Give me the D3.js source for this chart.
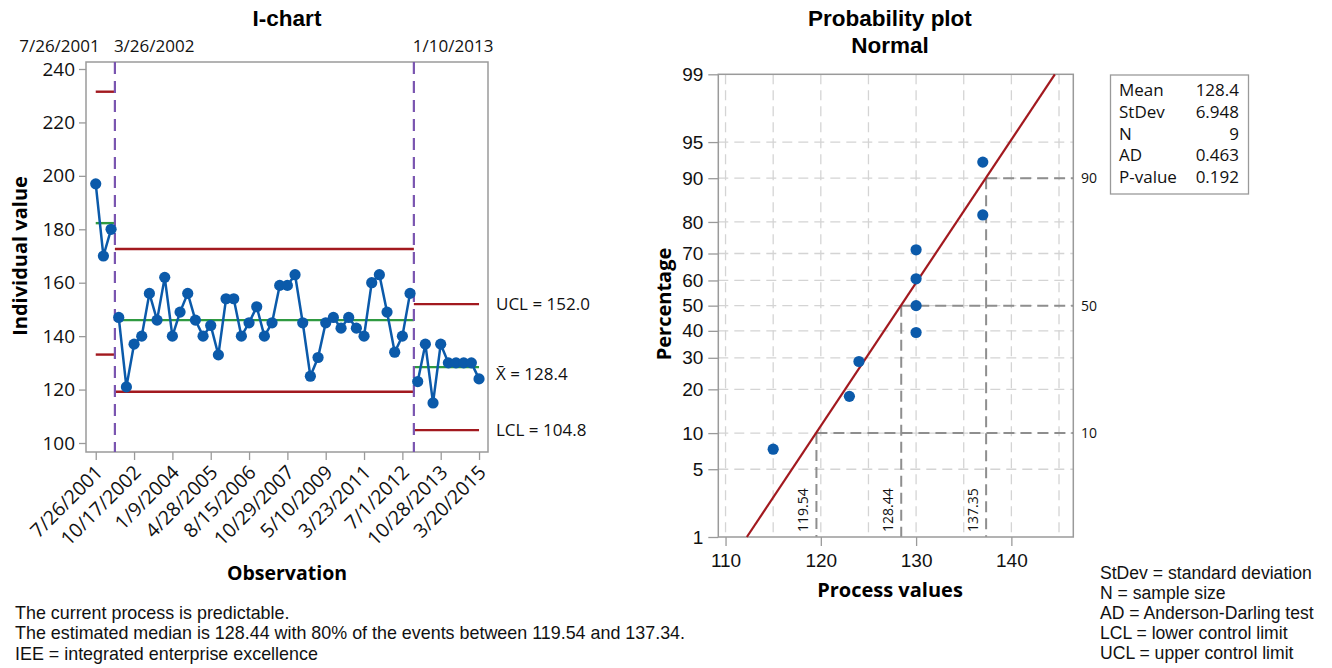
<!DOCTYPE html>
<html>
<head>
<meta charset="utf-8">
<script src="https://cdn.jsdelivr.net/npm/d3@7"></script>
<style>
  body { margin: 0; background: #fff; }
  svg { display: block; font-family: "Open Sans", "Noto Sans", sans-serif; }
  .note, .title { font-family: "Liberation Sans", Arial, sans-serif; }
</style>
</head>
<body>
<svg id="chart" width="1332" height="668"></svg>
<script>
// ---- I-chart data ----
const observations = [197, 170, 180, 147, 121, 137, 140, 156, 146, 162, 140, 149, 156, 146, 140, 144, 133,
  154, 154, 140, 145, 151, 140, 145, 159, 159, 163, 145, 125, 132, 145, 147, 143, 147, 143, 140, 160, 163,
  149, 134, 140, 156, 123, 137, 115, 137, 130, 130, 130, 130, 124];
const xTickIndex = [0, 5, 10, 15, 20, 25, 30, 35, 40, 45, 50];
const xTickLabels = ["7/26/2001", "10/17/2002", "1/9/2004", "4/28/2005", "8/15/2006", "10/29/2007",
  "5/10/2009", "3/23/2011", "7/1/2012", "10/28/2013", "3/20/2015"];
const yTicks = [100, 120, 140, 160, 180, 200, 220, 240];

// stages: first / last observation index, start date, centre line and limits
const stageFirst = [0, 3, 42];
const stageLast = [2, 41, 50];
const stageDates = ["7/26/2001", "3/26/2002", "1/10/2013"];
const stageMean = [182.3, 146.0, 128.4];
const stageUCL = [231.5, 172.6, 152.0];
const stageLCL = [133.1, 119.2, 104.8];

// ---- probability plot data ----
const processValues = [115, 123, 124, 130, 130, 130, 130, 137, 137];
const fitMean = 128.4;
const fitStDev = 6.948;
const pctTicks = [1, 5, 10, 20, 30, 40, 50, 60, 70, 80, 90, 95, 99];
const pctGrid = [5, 10, 20, 30, 40, 50, 60, 70, 80, 90, 95];
const valueTicks = [110, 120, 130, 140];
const valueGrid = [110, 115, 120, 125, 130, 135, 140, 145];
const refPercents = [10, 50, 90];
const refValues = [119.54, 128.44, 137.35];
const statNames = ["Mean", "StDev", "N", "AD", "P-value"];
const statValues = ["128.4", "6.948", "9", "0.463", "0.192"];

const notesLeft = ["The current process is predictable.",
  "The estimated median is 128.44 with 80% of the events between 119.54 and 137.34.",
  "IEE = integrated enterprise excellence"];
const notesRight = ["StDev = standard deviation", "N = sample size", "AD = Anderson-Darling test",
  "LCL = lower control limit", "UCL = upper control limit"];

const BLUE = "#0b5aaa", RED = "#a2191f", GREEN = "#2f9a41", PURPLE = "#7a55b0", FRAME = "#9a9a9a";

const svg = d3.select("#chart");

// inverse standard normal CDF (Acklam's rational approximation)
function probit(p) {
  const a = [-3.969683028665376e+01, 2.209460984245205e+02, -2.759285104469687e+02, 1.383577518672690e+02, -3.066479806614716e+01, 2.506628277459239e+00];
  const b = [-5.447609879822406e+01, 1.615858368580409e+02, -1.556989798598866e+02, 6.680131188771972e+01, -1.328068155288572e+01];
  const c = [-7.784894002430293e-03, -3.223964580411365e-01, -2.400758277161838e+00, -2.549732539343734e+00, 4.374664141464968e+00, 2.938163982698783e+00];
  const d = [7.784695709041462e-03, 3.224671290700398e-01, 2.445134137142996e+00, 3.754408661907416e+00];
  const pl = 0.02425;
  let q, r;
  if (p < pl) {
    q = Math.sqrt(-2 * Math.log(p));
    return (((((c[0]*q+c[1])*q+c[2])*q+c[3])*q+c[4])*q+c[5]) / ((((d[0]*q+d[1])*q+d[2])*q+d[3])*q+1);
  } else if (p <= 1 - pl) {
    q = p - 0.5; r = q * q;
    return (((((a[0]*r+a[1])*r+a[2])*r+a[3])*r+a[4])*r+a[5])*q / (((((b[0]*r+b[1])*r+b[2])*r+b[3])*r+b[4])*r+1);
  } else {
    q = Math.sqrt(-2 * Math.log(1 - p));
    return -(((((c[0]*q+c[1])*q+c[2])*q+c[3])*q+c[4])*q+c[5]) / ((((d[0]*q+d[1])*q+d[2])*q+d[3])*q+1);
  }
}

// =========================== I-chart ===========================
const iLeft = 86, iRight = 488, iTop = 62, iBottom = 452;
const x = d3.scaleLinear().domain([-1.27, 51.17]).range([iLeft, iRight]);
const y = d3.scaleLinear().domain([96.63, 242.62]).range([iBottom, iTop]);

const ic = svg.append("g");

ic.append("text").attr("class", "title").attr("x", 287).attr("y", 26).attr("text-anchor", "middle")
  .attr("font-size", 22.5).attr("font-weight", 700).text("I-chart");

// y axis
const yAxis = ic.append("g").attr("transform", `translate(${iLeft},0)`)
  .call(d3.axisLeft(y).tickValues(yTicks).tickSize(7).tickPadding(4).tickSizeOuter(0));
yAxis.select(".domain").remove();
yAxis.selectAll("line").attr("stroke", FRAME).attr("stroke-width", 1.3);
yAxis.selectAll("text").attr("font-size", 19).attr("fill", "#111").attr("font-family", "Open Sans");

// x axis
const xAxis = ic.append("g").attr("transform", `translate(0,${iBottom})`)
  .call(d3.axisBottom(x).tickValues(xTickIndex).tickSize(8).tickFormat((d, i) => xTickLabels[i]).tickSizeOuter(0));
xAxis.select(".domain").remove();
xAxis.selectAll("line").attr("stroke", FRAME).attr("stroke-width", 1.3);
xAxis.selectAll("text")
  .attr("font-size", 19.5).attr("fill", "#111").attr("font-family", "Open Sans")
  .attr("text-anchor", "end").attr("dy", "0.35em")
  .attr("transform", "translate(-5,9) rotate(-45)");

// frame
ic.append("rect").attr("x", iLeft).attr("y", iTop).attr("width", iRight - iLeft).attr("height", iBottom - iTop)
  .attr("fill", "none").attr("stroke", FRAME).attr("stroke-width", 1.5);

// stage boundaries and control lines
const bounds = stageFirst.map((f, i) => [
  i === 0 ? f : (stageLast[i - 1] + f) / 2,
  i === stageFirst.length - 1 ? stageLast[i] : (stageLast[i] + stageFirst[i + 1]) / 2
]);

bounds.forEach((b, i) => {
  [[stageUCL[i], RED], [stageLCL[i], RED], [stageMean[i], GREEN]].forEach(([v, col]) => {
    ic.append("line").attr("x1", x(b[0])).attr("x2", x(b[1])).attr("y1", y(v)).attr("y2", y(v))
      .attr("stroke", col).attr("stroke-width", 2.4);
  });
});

// stage change markers
bounds.slice(1).forEach(b => {
  ic.append("line").attr("x1", x(b[0])).attr("x2", x(b[0])).attr("y1", iTop).attr("y2", iBottom)
    .attr("stroke", PURPLE).attr("stroke-width", 2.2).attr("stroke-dasharray", "12,7");
});

// stage start dates
stageDates.forEach((t, i) => {
  const first = i === 0;
  ic.append("text").attr("x", first ? x(0) + 4 : x(bounds[i][0]) - 1).attr("y", 52)
    .attr("text-anchor", first ? "end" : "start").attr("font-size", 17).attr("fill", "#111").text(t);
});

// observation lines, broken at each stage change
const line = d3.line().x(d => x(d.i)).y(d => y(d.v));
const pts = observations.map((v, i) => ({ i, v }));
stageFirst.forEach((f, s) => {
  ic.append("path").datum(pts.slice(f, stageLast[s] + 1)).attr("d", line)
    .attr("fill", "none").attr("stroke", BLUE).attr("stroke-width", 2.5);
});
ic.append("g").selectAll("circle").data(pts).join("circle")
  .attr("cx", d => x(d.i)).attr("cy", d => y(d.v)).attr("r", 5.6).attr("fill", BLUE);

// current stage labels
const last = stageFirst.length - 1;
const limLabels = [
  [stageUCL[last], "UCL = " + stageUCL[last].toFixed(1), 0],
  [stageMean[last], "X\u0304 = " + stageMean[last].toFixed(1), 7],
  [stageLCL[last], "LCL = " + stageLCL[last].toFixed(1), 0]
];
limLabels.forEach(([v, t, off]) => {
  ic.append("text").attr("x", 496).attr("y", y(v) + off).attr("dy", "0.35em")
    .attr("font-size", 17).attr("fill", "#111").text(t);
});

ic.append("text").attr("x", 287).attr("y", 580).attr("text-anchor", "middle")
  .attr("font-size", 19.5).attr("font-weight", 700).text("Observation");
ic.append("text").attr("transform", "translate(27,256) rotate(-90)").attr("text-anchor", "middle")
  .attr("font-size", 20).attr("font-weight", 700).text("Individual value");

// ======================= Probability plot =======================
const pLeft = 718.3, pRight = 1073.3, pTop = 74.3, pBottom = 537;
const px = d3.scaleLinear().domain([109.24, 146.5]).range([pLeft, pRight]);
const pz = d3.scaleLinear().domain([probit(0.01), probit(0.99)]).range([pBottom, pTop]);
const py = pct => pz(probit(pct / 100));

const pp = svg.append("g");

pp.append("text").attr("class", "title").attr("x", 890).attr("y", 26).attr("text-anchor", "middle")
  .attr("font-size", 22.5).attr("font-weight", 700).text("Probability plot");
pp.append("text").attr("class", "title").attr("x", 890).attr("y", 53).attr("text-anchor", "middle")
  .attr("font-size", 22.5).attr("font-weight", 700).text("Normal");

// grid
pp.append("g").selectAll("line").data(valueGrid).join("line")
  .attr("x1", d => px(d)).attr("x2", d => px(d)).attr("y1", pTop).attr("y2", pBottom)
  .attr("stroke", "#d4d4d4").attr("stroke-width", 1.3).attr("stroke-dasharray", "10,6");
pp.append("g").selectAll("line").data(pctGrid).join("line")
  .attr("x1", pLeft).attr("x2", pRight).attr("y1", d => py(d)).attr("y2", d => py(d))
  .attr("stroke", "#d4d4d4").attr("stroke-width", 1.3).attr("stroke-dasharray", "10,6");

// percentile reference lines
refPercents.forEach((p, i) => {
  const xv = px(refValues[i]), yv = py(p);
  pp.append("line").attr("x1", xv).attr("x2", pRight).attr("y1", yv).attr("y2", yv)
    .attr("stroke", "#8e8e8e").attr("stroke-width", 2).attr("stroke-dasharray", "11,6");
  pp.append("line").attr("x1", xv).attr("x2", xv).attr("y1", yv).attr("y2", pBottom)
    .attr("stroke", "#8e8e8e").attr("stroke-width", 2).attr("stroke-dasharray", "11,6");
  pp.append("text").attr("x", 1081).attr("y", yv).attr("dy", "0.35em")
    .attr("font-size", 14).attr("fill", "#111").text(p);
  pp.append("text").attr("transform", `translate(${xv - 8},${pBottom - 5}) rotate(-90)`)
    .attr("font-size", 14).attr("fill", "#111").text(refValues[i].toFixed(2));
});

// axes
const pyAxis = pp.append("g").attr("transform", `translate(${pLeft},0)`)
  .call(d3.axisLeft(pz).tickValues(pctTicks.map(p => probit(p / 100))).tickFormat((d, i) => pctTicks[i])
    .tickSize(10).tickPadding(5).tickSizeOuter(0));
pyAxis.select(".domain").remove();
pyAxis.selectAll("line").attr("stroke", FRAME).attr("stroke-width", 1.3);
pyAxis.selectAll("text").attr("font-size", 19).attr("fill", "#111");

const pxAxis = pp.append("g").attr("transform", `translate(0,${pBottom})`)
  .call(d3.axisBottom(px).tickValues(valueTicks).tickSize(9).tickPadding(8).tickSizeOuter(0));
pxAxis.select(".domain").remove();
pxAxis.selectAll("line").attr("stroke", FRAME).attr("stroke-width", 1.3);
pxAxis.selectAll("text").attr("font-size", 19).attr("fill", "#111");

pp.append("rect").attr("x", pLeft).attr("y", pTop).attr("width", pRight - pLeft).attr("height", pBottom - pTop)
  .attr("fill", "none").attr("stroke", FRAME).attr("stroke-width", 1.5);

// fitted normal line
const zLo = probit(0.01), zHi = probit(0.99);
pp.append("line")
  .attr("x1", px(fitMean + fitStDev * zLo)).attr("y1", pz(zLo))
  .attr("x2", px(fitMean + fitStDev * zHi)).attr("y2", pz(zHi))
  .attr("stroke", RED).attr("stroke-width", 2.2);

// median-rank plotting positions
const n = processValues.length;
pp.append("g").selectAll("circle").data(processValues.slice().sort(d3.ascending)).join("circle")
  .attr("cx", d => px(d)).attr("cy", (d, i) => py(100 * (i + 1 - 0.3) / (n + 0.4)))
  .attr("r", 5.6).attr("fill", BLUE);

pp.append("text").attr("x", 890).attr("y", 597).attr("text-anchor", "middle")
  .attr("font-size", 20).attr("font-weight", 700).text("Process values");
pp.append("text").attr("transform", "translate(671,304) rotate(-90)").attr("text-anchor", "middle")
  .attr("font-size", 20).attr("font-weight", 700).text("Percentage");

// summary statistics box
const box = svg.append("g");
box.append("rect").attr("x", 1110.5).attr("y", 75).attr("width", 138).attr("height", 119)
  .attr("fill", "none").attr("stroke", FRAME).attr("stroke-width", 1.3);
statNames.forEach((s, i) => {
  box.append("text").attr("x", 1119).attr("y", 96 + i * 21.8).attr("font-size", 17).attr("fill", "#111").text(s);
  box.append("text").attr("x", 1239).attr("y", 96 + i * 21.8).attr("text-anchor", "end")
    .attr("font-size", 17).attr("fill", "#111").text(statValues[i]);
});

// footnotes
notesLeft.forEach((t, i) => {
  svg.append("text").attr("class", "note").attr("x", 15).attr("y", 619 + i * 20.3)
    .attr("font-size", 17.9).attr("fill", "#111").text(t);
});
notesRight.forEach((t, i) => {
  svg.append("text").attr("class", "note").attr("x", 1100).attr("y", 579 + i * 20)
    .attr("font-size", 17.6).attr("fill", "#111").text(t);
});
</script>
</body>
</html>
